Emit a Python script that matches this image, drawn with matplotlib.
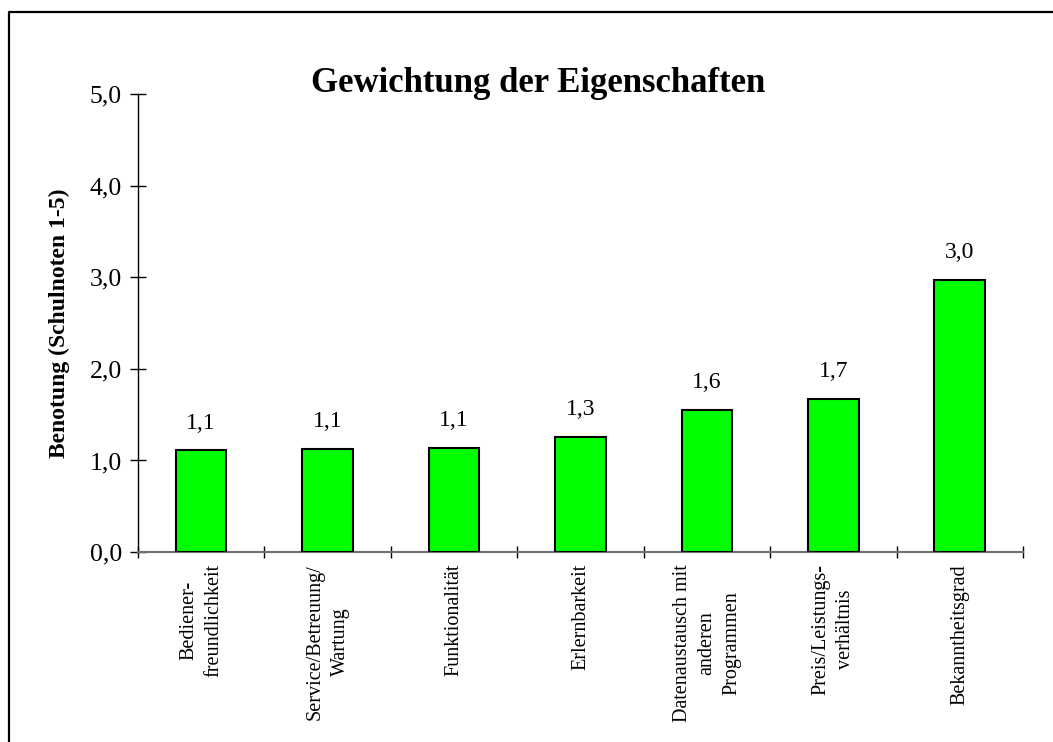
"""Gewichtung der Eigenschaften - Balkendiagramm"""
import matplotlib
matplotlib.use('Agg')
import matplotlib.pyplot as plt
from matplotlib.lines import Line2D

# Daten
categories = [
    'Bediener-\nfreundlichkeit',
    'Service/Betreuung/\nWartung',
    'Funktionalität',
    'Erlernbarkeit',
    'Datenaustausch mit\nanderen\nProgrammen',
    'Preis/Leistungs-\nverhältnis',
    'Bekanntheitsgrad',
]
values = [1.11, 1.13, 1.14, 1.26, 1.55, 1.67, 2.97]
y_ticks = [0, 1, 2, 3, 4, 5]

plt.rcParams['font.family'] = ['Liberation Serif', 'DejaVu Serif']

fig = plt.figure(figsize=(10.53, 7.42), dpi=100)
ax = fig.add_axes([0.131, 0.256, 0.8405, 0.617])

x = list(range(len(categories)))
ax.bar(x, values, width=0.4, color='#00ff00', edgecolor='black', linewidth=1.5, zorder=3)

for xi, v in zip(x, values):
    ax.annotate(f'{v:.1f}'.replace('.', ','), (xi, v), xytext=(0, 12),
                textcoords='offset points', ha='center', va='bottom', fontsize=17)

ax.set_xlim(-0.5, len(categories) - 0.5)
ax.set_ylim(0, 5)
ax.set_yticks(y_ticks)
ax.set_yticklabels([f'{t:.1f}'.replace('.', ',') for t in y_ticks], fontsize=18.5)
ax.tick_params(axis='y', direction='inout', length=11, width=1, pad=6)

# Striche zwischen den Kategorien, Beschriftungen in der Mitte
ax.set_xticks([i - 0.5 for i in range(len(categories) + 1)])
ax.set_xticklabels([])
ax.tick_params(axis='x', direction='inout', length=9, width=1)
for xi, lab in zip(x, categories):
    ax.text(xi, -0.13, lab, rotation=90, ha='center', va='top', multialignment='center',
            fontsize=14.5, linespacing=1.42)

for s in ['top', 'right']:
    ax.spines[s].set_visible(False)
ax.spines['bottom'].set_color('#707070')
ax.spines['bottom'].set_linewidth(1.5)
ax.spines['left'].set_linewidth(1)

ax.set_ylabel('Benotung (Schulnoten 1-5)', fontsize=17, fontweight='bold', labelpad=14)
fig.text(0.511, 0.888, 'Gewichtung der Eigenschaften', ha='center', va='center',
         fontsize=25, fontweight='bold')

# Rahmen links und oben
fig.add_artist(Line2D([0.0085, 0.0085, 1.0], [0.0, 0.984, 0.984], color='black',
                      linewidth=1.6, transform=fig.transFigure))

fig.savefig('out.png', dpi=100)
